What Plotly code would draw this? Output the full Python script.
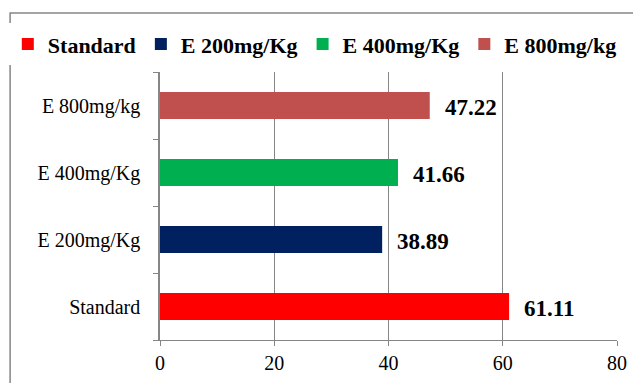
import plotly.graph_objects as go

categories = ["Standard", "E 200mg/Kg", "E 400mg/Kg", "E 800mg/kg"]
values = [61.11, 38.89, 41.66, 47.22]
labels = ["61.11", "38.89", "41.66", "47.22"]
colors = ["#FF0000", "#002060", "#00B050", "#C0504D"]
x_ticks = [0, 20, 40, 60, 80]

SERIF = "Liberation Serif"
GRID = "#868686"

fig = go.Figure()
for cat, val, col in zip(categories, values, colors):
    fig.add_trace(go.Bar(
        y=[cat], x=[val], orientation="h", name=cat,
        marker=dict(color=col, line=dict(width=0)), width=0.4,
    ))

for cat, val, lab in zip(categories, values, labels):
    fig.add_annotation(x=val, y=cat, text="<b>%s</b>" % lab, showarrow=False,
                       xanchor="left", xshift=13, yshift=-2,
                       font=dict(family=SERIF, size=23, color="black"))

fig.add_shape(type="rect", xref="paper", yref="paper",
              x0=-0.328, x1=1.2, y0=-0.3, y1=1.22,
              line=dict(color=GRID, width=1.5), layer="below")

fig.update_layout(
    width=641, height=383,
    margin=dict(l=152, r=32, t=64, b=51, autoexpand=False),
    paper_bgcolor="white", plot_bgcolor="white",
    barmode="overlay",
    showlegend=True,
    legend=dict(orientation="h", x=-0.333, xanchor="left", y=1.104, yanchor="middle",
                font=dict(family=SERIF, size=22, color="black", weight="bold"),
                itemwidth=30, traceorder="normal", itemclick=False),
    font=dict(family=SERIF, color="black"),
)
fig.update_xaxes(range=[0, 80], tickvals=x_ticks, ticktext=[str(t) for t in x_ticks],
                 showgrid=True, gridcolor=GRID, gridwidth=1, zeroline=False,
                 showline=True, linecolor=GRID, linewidth=1,
                 ticks="outside", ticklen=5, tickcolor=GRID, automargin=False,
                 tickfont=dict(family=SERIF, size=20, color="black"))
fig.update_yaxes(categoryorder="array", categoryarray=categories,
                 showline=True, linecolor=GRID, linewidth=1.5,
                 ticks="outside", ticklen=5, tickcolor=GRID, tickson="boundaries",
                 ticklabelstandoff=14, automargin=False,
                 showgrid=False, zeroline=False,
                 tickfont=dict(family=SERIF, size=20, color="black"))

fig.write_html("out.html")
